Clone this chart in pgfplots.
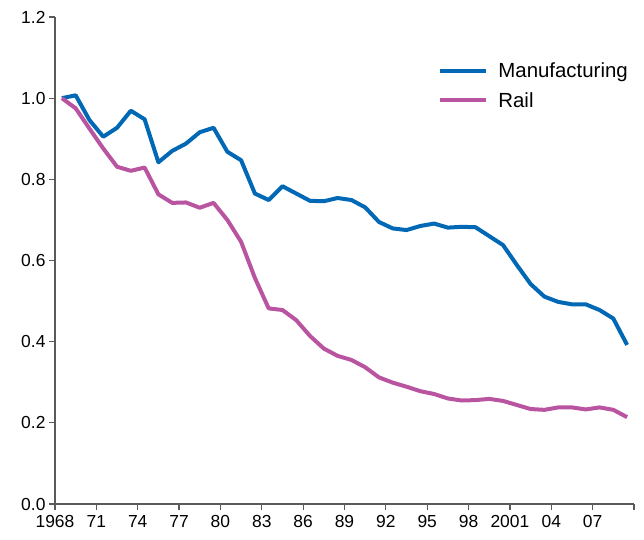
\documentclass[border=0pt]{standalone}
\usepackage{pgfplots}
\pgfplotsset{compat=1.18}
\usepackage{pgfplotstable}
\usepackage{fontspec}
\setmainfont{Liberation Sans}
\definecolor{manu}{RGB}{0,104,180}
\definecolor{rail}{RGB}{185,85,160}
\definecolor{axgray}{RGB}{90,90,90}
\pgfplotstableread{
year manu rail
1968.5 1.000 1.000
1969.5 1.007 0.975
1970.5 0.946 0.925
1971.5 0.905 0.876
1972.5 0.927 0.831
1973.5 0.969 0.821
1974.5 0.948 0.829
1975.5 0.842 0.763
1976.5 0.870 0.742
1977.5 0.888 0.743
1978.5 0.916 0.730
1979.5 0.927 0.742
1980.5 0.868 0.700
1981.5 0.847 0.646
1982.5 0.765 0.557
1983.5 0.749 0.482
1984.5 0.783 0.478
1985.5 0.765 0.453
1986.5 0.747 0.414
1987.5 0.746 0.383
1988.5 0.754 0.365
1989.5 0.749 0.355
1990.5 0.731 0.337
1991.5 0.695 0.312
1992.5 0.679 0.299
1993.5 0.675 0.289
1994.5 0.685 0.278
1995.5 0.691 0.271
1996.5 0.681 0.260
1997.5 0.683 0.255
1998.5 0.682 0.256
1999.5 0.660 0.259
2000.5 0.638 0.254
2001.5 0.589 0.244
2002.5 0.542 0.234
2003.5 0.511 0.232
2004.5 0.498 0.238
2005.5 0.492 0.238
2006.5 0.492 0.233
2007.5 0.478 0.238
2008.5 0.457 0.232
2009.5 0.392 0.214
}\datatable
\begin{document}
\begin{tikzpicture}
\begin{axis}[
  scale only axis,
  width=579bp, height=487bp,
  xmin=1968, xmax=2010,
  ymin=0, ymax=1.2,
  axis lines=left,
  axis line style={axgray, line width=1.2bp, -},
  xtick={1968,1971,...,2010},
  xticklabels={1968,71,74,77,80,83,86,89,92,95,98,2001,04,07,{}},
  ytick={0,0.2,...,1.2},
  yticklabel style={/pgf/number format/.cd, fixed, fixed zerofill, precision=1},
  /pgf/number format/assume math mode=true,
  tick align=outside,
  major tick length=6bp,
  tick style={axgray, line width=1.2bp},
  tick label style={font=\fontsize{17.5}{20}\selectfont, text=black},
  xticklabel style={yshift=-2bp},
  clip=false,
  legend style={draw=none, fill=none, at={(axis description cs:1,0.91)}, xshift=-4bp, anchor=north east,
    font=\fontsize{20.5}{24}\selectfont, row sep=9bp, inner sep=0pt},
  legend cell align=left,
  legend image code/.code={\draw[#1] (0bp,0bp) -- (46bp,0bp); \path (54bp,0bp);},
]
\addplot[manu, line width=4bp, line join=round] table[x=year, y=manu] {\datatable};
\addlegendentry{Manufacturing}
\addplot[rail, line width=4bp, line join=round] table[x=year, y=rail] {\datatable};
\addlegendentry{Rail}
\end{axis}
\path (current axis.south west) ++(-55bp,-36bp) (current axis.north east) ++(10bp,17bp);
\end{tikzpicture}
\end{document}
